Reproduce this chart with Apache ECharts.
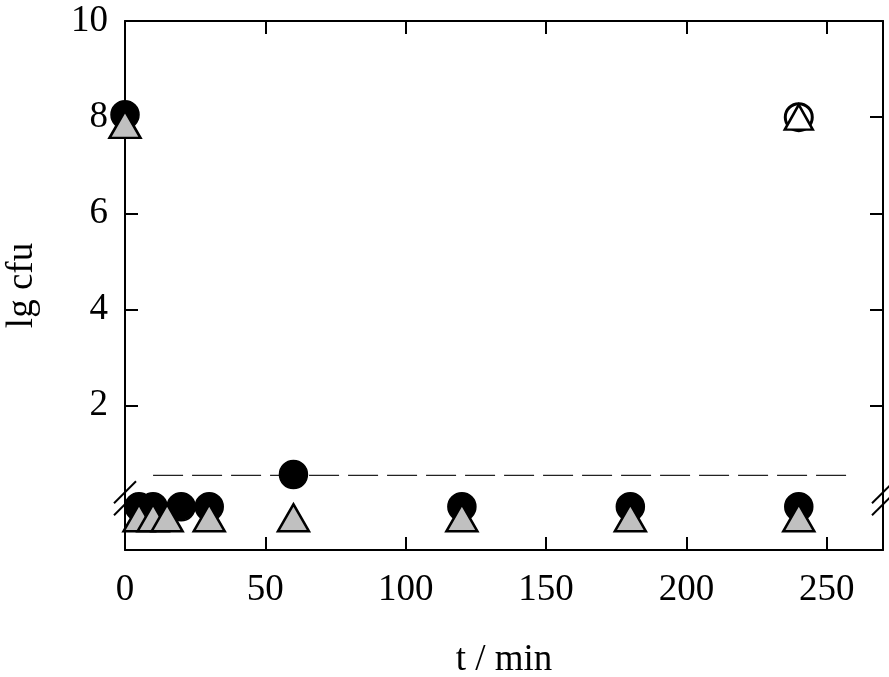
<!DOCTYPE html>
<html lang="en">
<head>
    <meta charset="UTF-8">
    <title>lg cfu vs t</title>
    <style>
        html, body { margin: 0; padding: 0; background: #fff; }
        #J-chart { width: 889px; height: 677px; }
    </style>
</head>
<body>
<div id="J-chart"></div>
<script src="https://cdn.jsdelivr.net/npm/echarts@6.0.0/dist/echarts.min.js"></script>
<script>
    // data
    var xTicks = [0, 50, 100, 150, 200, 250];
    var yTicks = [2, 4, 6, 8, 10];
    var filledCircles = [[0, 8.05], [5, -0.1], [10, -0.1], [20, -0.1], [30, -0.1], [60, 0.57], [120, -0.1], [180, -0.1], [240, -0.1]];
    var greyTriangles = [[0, 7.85], [5, -0.33], [10, -0.33], [15, -0.33], [30, -0.33], [60, -0.33], [120, -0.33], [180, -0.33], [240, -0.33]];
    var openCircles = [[240, 8.0]];
    var openTriangles = [[240, 8.0]];
    var detectionLimit = [[10, 0.55], [260, 0.55]];

    var font = 'Liberation Serif';
    var chart = echarts.init(document.getElementById('J-chart'));

    function boxAxis(extra) {
        var base = {
            axisLine: { show: true, onZero: false, lineStyle: { color: '#000', width: 2 } },
            axisTick: { show: true, inside: true, length: 13, lineStyle: { color: '#000', width: 2 } },
            splitLine: { show: false },
            axisLabel: { show: false }
        };
        return Object.assign(base, extra);
    }

    var option = {
        animation: false,
        grid: { left: 125, right: 6, top: 21, bottom: 127, outerBoundsMode: 'none', containLabel: false },
        xAxis: [
            boxAxis({
                type: 'value', min: 0, max: 270, position: 'bottom',
                name: 't / min', nameLocation: 'middle', nameGap: 92,
                nameTextStyle: { fontFamily: font, fontSize: 37, color: '#000' },
                axisTick: { show: true, inside: true, length: 13, customValues: xTicks, lineStyle: { color: '#000', width: 2 } },
                axisLabel: { show: true, customValues: xTicks, margin: 22, fontFamily: font, fontSize: 37, color: '#000' }
            }),
            boxAxis({
                type: 'value', min: 0, max: 270, position: 'top',
                axisTick: { show: true, inside: true, length: 13, customValues: xTicks, lineStyle: { color: '#000', width: 2 } }
            })
        ],
        yAxis: [
            boxAxis({
                type: 'value', min: -1, max: 10, position: 'left',
                name: 'lg cfu', nameLocation: 'middle', nameGap: 84, nameRotate: 90,
                nameTextStyle: { fontFamily: font, fontSize: 37, color: '#000' },
                axisTick: { show: true, inside: true, length: 13, customValues: yTicks, lineStyle: { color: '#000', width: 2 } },
                axisLabel: { show: true, customValues: yTicks, margin: 17, fontFamily: font, fontSize: 37, color: '#000' }
            }),
            boxAxis({
                type: 'value', min: -1, max: 10, position: 'right',
                axisTick: { show: true, inside: true, length: 13, customValues: yTicks, lineStyle: { color: '#000', width: 2 } }
            })
        ],
        series: [
            {
                type: 'line',
                data: detectionLimit,
                symbol: 'none',
                lineStyle: { color: '#222', width: 1.3, type: [30, 9] },
                z: 1
            },
            {
                type: 'scatter',
                data: filledCircles,
                symbol: 'circle',
                symbolSize: 28,
                itemStyle: { color: '#000', borderColor: '#000', borderWidth: 1.5, opacity: 1 },
                z: 2
            },
            {
                type: 'scatter',
                data: greyTriangles,
                symbol: 'triangle',
                symbolSize: [31, 27],
                itemStyle: { color: '#c0c0c0', borderColor: '#000', borderWidth: 2.5, opacity: 1 },
                z: 3
            },
            {
                type: 'scatter',
                data: openCircles,
                symbol: 'circle',
                symbolSize: 27,
                itemStyle: { color: '#fff', borderColor: '#000', borderWidth: 3, opacity: 1 },
                z: 4
            },
            {
                type: 'scatter',
                data: openTriangles,
                symbol: 'triangle',
                symbolSize: [28, 25],
                itemStyle: { color: '#fff', borderColor: '#000', borderWidth: 2.5, opacity: 1 },
                z: 5
            }
        ]
    };

    chart.setOption(option);

    // axis break marks (two slashes on each vertical axis)
    function breakMarks() {
        var els = [];
        [0.2, -0.05].forEach(function (v) {
            var left = chart.convertToPixel({ xAxisIndex: 0, yAxisIndex: 0 }, [0, v]);
            var right = chart.convertToPixel({ xAxisIndex: 0, yAxisIndex: 0 }, [270, v]);
            [left, right].forEach(function (p) {
                els.push({
                    type: 'line',
                    shape: { x1: p[0] - 11, y1: p[1] + 11, x2: p[0] + 11, y2: p[1] - 11 },
                    style: { stroke: '#000', lineWidth: 2 },
                    z: 0
                });
            });
        });
        return els;
    }

    chart.setOption({ graphic: breakMarks() });
</script>
</body>
</html>
